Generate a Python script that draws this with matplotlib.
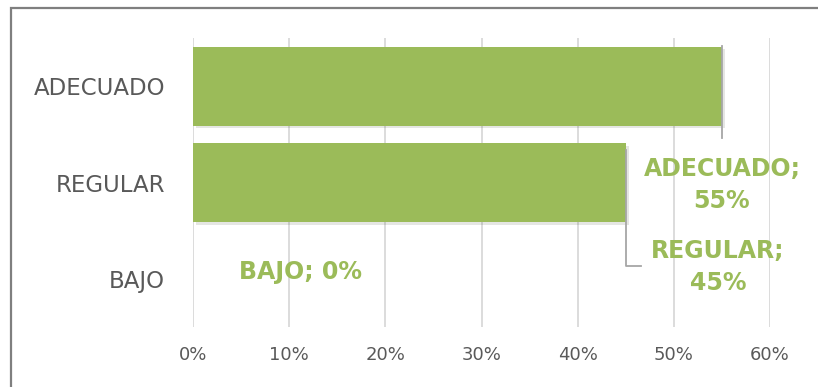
import matplotlib
matplotlib.use("Agg")
import matplotlib.pyplot as plt
import matplotlib.patheffects as pe
from matplotlib.patches import Rectangle

categories = ["BAJO", "REGULAR", "ADECUADO"]
values = [0, 45, 55]
ticks = [0, 10, 20, 30, 40, 50, 60]
tick_labels = ["0%", "10%", "20%", "30%", "40%", "50%", "60%"]

green = "#9BBB59"
grey_txt = "#595959"

fig = plt.figure(figsize=(8.18, 3.87), dpi=100)
ax = fig.add_axes([193 / 818, 1 - 327 / 387, 577 / 818, 289 / 387])

bars = ax.barh(range(len(categories)), values, height=0.82, color=green, zorder=3)
for b in bars:
    b.set_path_effects([pe.SimplePatchShadow(offset=(2, -2), alpha=0.12), pe.Normal()])

ax.set_xlim(0, 60)
ax.set_ylim(-0.5, 2.5)
ax.set_xticks(ticks)
ax.set_xticklabels(tick_labels)
ax.set_yticks(range(len(categories)))
ax.set_yticklabels(categories)
ax.tick_params(axis="x", length=0, pad=14, labelsize=13, labelcolor=grey_txt)
ax.tick_params(axis="y", length=0, pad=20, labelsize=16.5, labelcolor=grey_txt)
ax.grid(axis="x", color="#D9D9D9", linewidth=1.3, zorder=0)
for s in ax.spines.values():
    s.set_visible(False)

# leader lines
lc = "#A6A6A6"
ax.plot([values[2], values[2]], [2.417, 1.462], color=lc, lw=1.3, zorder=4, clip_on=False)
ax.plot([values[1], values[1], 46.6], [1.34, 0.133, 0.133], color=lc, lw=1.3, zorder=4, clip_on=False)

# data labels
lab_kw = dict(color=green, fontsize=17, fontweight="bold", ha="center", va="center",
              linespacing=1.45, zorder=5)
ax.text(55.0, 0.974, f"{categories[2]};\n{values[2]}%", **lab_kw)
ax.text(54.6, 0.123, f"{categories[1]};\n{values[1]}%", **lab_kw)
ax.text(11.2, 0.071, f"{categories[0]}; {values[0]}%", **lab_kw)

# outer border
fig.patches.append(Rectangle((11 / 818, -0.05), 1.1, 1 - 8 / 387 + 0.05,
                             transform=fig.transFigure, fill=False,
                             edgecolor="#7F7F7F", linewidth=1.6, clip_on=False))

fig.savefig("out.png", dpi=100)
